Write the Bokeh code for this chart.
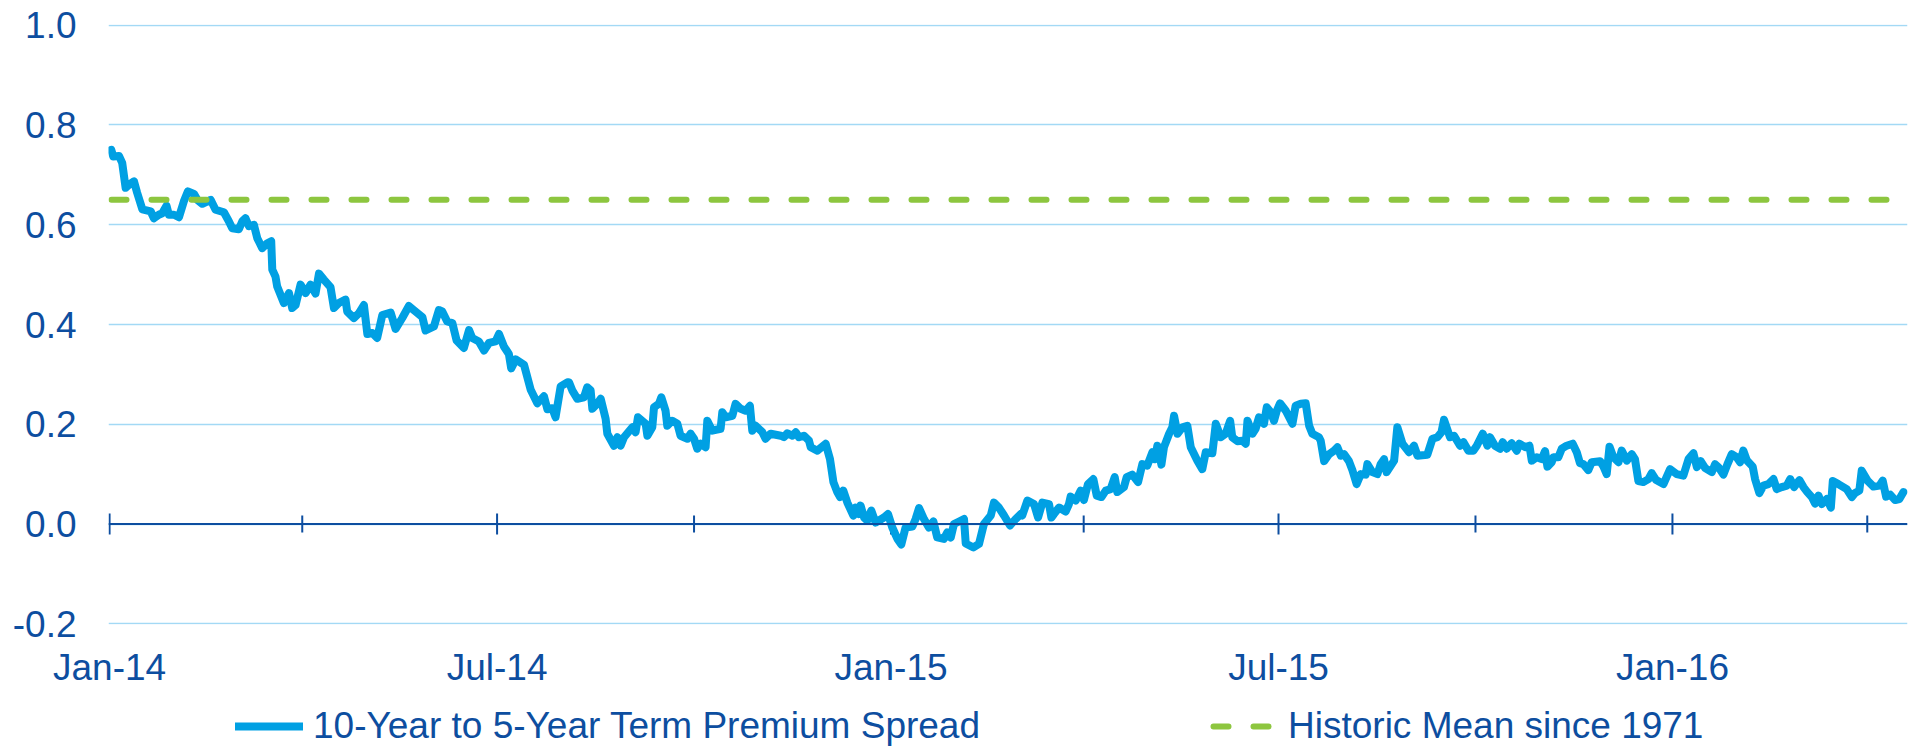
import numpy as np
import pandas as pd
from math import pi
from bokeh.plotting import figure
from bokeh.layouts import column
from bokeh.models import (Range1d, FixedTicker, MonthsTicker, DatetimeTickFormatter,
                          NumeralTickFormatter, Span, Legend, LegendItem)
from bokeh.embed import file_html
from bokeh.resources import INLINE

# ---------------- data ----------------
BASE_DATE = "2014-01-01"
# days since 2014-01-01
day_offset = [
    0.8, 1.7, 4.4, 5.9, 7.5, 9.0, 11.4, 12.9, 15.3, 19.2, 20.7, 23.0, 24.6, 26.6, 27.7, 30.1,
    32.4, 34.7, 36.6, 39.4, 41.0, 43.3, 47.2, 49.5, 53.4, 55.7, 57.3, 60.4, 62.0, 63.5, 65.1,
    67.4, 69.0, 71.3, 73.7, 75.5, 76.0, 77.5, 78.3, 81.4, 83.8, 85.3, 86.9, 89.2, 91.6, 93.9,
    96.2, 97.8, 100.1, 103.2, 104.8, 107.1, 110.2, 111.0, 114.1, 116.5, 118.8, 120.4, 122.7,
    125.0, 127.4, 131.3, 133.6, 136.7, 139.8, 142.9, 146.1, 147.6, 151.5, 153.8, 155.4, 157.7,
    160.1, 162.1, 165.5, 167.9, 169.4, 172.5, 174.9, 177.2, 180.3, 181.9, 184.2, 186.5, 187.6,
    189.7, 193.6, 196.7, 199.8, 202.9, 204.5, 206.8, 208.3, 210.7, 213.8,
    214.6, 216.1, 218.5, 221.6, 223.1, 224.7, 225.5, 227.8, 229.4, 231.7, 232.5, 235.6, 237.2,
    238.7, 240.3, 244.2, 245.7, 246.8, 250.4, 251.2, 253.5, 254.3, 256.6, 257.7, 259.7, 260.5,
    262.8, 265.2, 266.7, 269.9, 271.4, 273.0, 274.5, 276.1, 278.4, 279.2, 281.5, 285.4, 286.2,
    287.8, 290.9, 292.4, 294.8, 297.1, 299.1, 300.2, 301.8, 304.9, 306.4, 308.8, 313.5, 315.0,
    316.6, 318.9, 320.5, 322.0, 324.3, 326.7, 327.5, 330.6, 334.5, 336.5, 338.1, 339.9, 341.2,
    342.7, 344.6, 347.4, 348.5, 350.0, 350.8, 352.4, 353.9, 355.8, 357.8, 361.7, 363.6, 365.6,
    368.0, 369.8, 371.8, 375.0, 376.5, 378.1, 380.4, 382.7, 384.8, 386.6, 389.7, 391.3, 392.9,
    394.4, 396.8, 399.1, 399.9, 403.5, 406.1, 408.4, 411.6, 413.1, 415.4, 417.8, 420.6, 423.2,
    425.6,
    426.3, 428.7, 431.8, 433.7, 435.7, 438.8, 439.9, 441.1, 443.5, 446.6, 448.1, 448.9, 451.3,
    453.6, 455.1, 457.0, 459.5, 461.1, 463.3, 465.3, 467.6, 469.5, 470.7, 473.8, 475.1, 477.7,
    480.4, 482.4, 484.7, 487.1, 488.3, 489.4, 491.3, 492.5, 494.9, 496.4, 497.2, 498.8, 501.1,
    503.4, 505.0, 508.1, 510.4, 512.0, 515.1, 516.7, 519.0, 521.3, 523.4, 524.4, 526.8, 529.1,
    530.7, 531.5, 533.8, 535.3, 536.9, 539.2, 540.5, 542.4, 543.9, 545.2, 546.7, 549.4, 552.5,
    554.0, 556.4, 558.7, 560.3, 561.8, 564.9, 565.7, 567.3, 569.6, 571.9, 573.5, 575.1, 576.6,
    578.9, 580.5, 582.5, 584.4, 586.7, 587.5, 589.8, 592.2, 593.7, 595.3, 596.5, 600.0, 601.5,
    603.9, 607.0, 609.3, 610.9, 615.5, 617.9, 620.2, 622.1, 623.3,
    626.1, 628.0, 630.8, 632.4, 634.7, 637.0, 638.6, 641.4, 643.6, 644.8, 647.1, 649.5, 650.7,
    652.6, 654.9, 657.3, 658.5, 661.2, 663.2, 664.3, 666.6, 668.9, 670.5, 671.6, 673.6, 674.4,
    676.7, 678.3, 680.6, 683.4, 685.3, 686.8, 688.4, 690.7, 692.3, 696.2, 697.8, 699.3, 700.6,
    702.4, 704.8, 706.3, 708.7, 711.0, 712.5, 714.1, 716.4, 718.8, 720.3, 722.4, 725.8, 728.9,
    732.0, 735.1, 737.5, 739.8, 741.4, 743.2, 745.3, 748.4, 749.9, 751.5, 753.8, 755.7, 757.7,
    760.0, 761.6, 763.1, 764.7, 767.5, 768.6, 770.6, 772.5, 774.8, 777.2, 778.7, 781.1, 783.4,
    785.0, 786.8, 789.3, 791.2, 793.0, 795.1, 796.6, 798.2, 799.8, 802.1, 804.0, 804.9, 807.5,
    811.4, 813.8, 815.3, 817.3, 818.4, 821.1, 823.9, 826.7, 828.2, 829.8, 831.7, 834.0, 836.0,
    837.9,
]
spread = [
    0.750, 0.737, 0.738, 0.724, 0.674, 0.680, 0.687, 0.664, 0.631, 0.627, 0.613, 0.620, 0.623,
    0.638, 0.620, 0.620, 0.615, 0.647, 0.667, 0.662, 0.650, 0.642, 0.650, 0.630, 0.625, 0.607,
    0.593, 0.591, 0.607, 0.613, 0.597, 0.600, 0.573, 0.553, 0.563, 0.567, 0.510, 0.496, 0.476,
    0.443, 0.463, 0.433, 0.439, 0.480, 0.463, 0.480, 0.462, 0.502, 0.490, 0.475, 0.433, 0.443,
    0.450, 0.426, 0.413, 0.423, 0.439, 0.381, 0.383, 0.373, 0.419, 0.424, 0.391, 0.413, 0.437,
    0.426, 0.415, 0.388, 0.396, 0.429, 0.426, 0.406, 0.403, 0.368, 0.353, 0.389, 0.373, 0.366,
    0.348, 0.363, 0.366, 0.381, 0.356, 0.341, 0.312, 0.330, 0.319, 0.269, 0.242, 0.256, 0.230,
    0.232, 0.214, 0.276, 0.284,
    0.284, 0.268, 0.251, 0.254, 0.274, 0.268, 0.231, 0.241, 0.251, 0.211, 0.181, 0.157, 0.174,
    0.157, 0.174, 0.194, 0.184, 0.214, 0.201, 0.177, 0.194, 0.234, 0.241, 0.254, 0.227, 0.197,
    0.207, 0.201, 0.177, 0.171, 0.181, 0.171, 0.151, 0.161, 0.154, 0.207, 0.187, 0.191, 0.224,
    0.214, 0.217, 0.241, 0.231, 0.227, 0.237, 0.187, 0.197, 0.184, 0.171, 0.181, 0.177, 0.174,
    0.182, 0.177, 0.184, 0.174, 0.177, 0.167, 0.154, 0.147, 0.161, 0.130, 0.084, 0.064, 0.054,
    0.067, 0.043, 0.017, 0.033, 0.020, 0.037, 0.013, 0.007, 0.027, 0.003, 0.013, 0.020, -0.007,
    -0.030, -0.041, -0.007, -0.005, 0.010, 0.032, 0.010, -0.007, 0.005, -0.027, -0.030, -0.017,
    -0.027, 0.000, 0.005, 0.010, -0.039, -0.047, -0.040, 0.000, 0.017, 0.043, 0.033, 0.017,
    -0.003, 0.010, 0.020,
    0.017, 0.047, 0.040, 0.013, 0.043, 0.040, 0.013, 0.020, 0.033, 0.025, 0.040, 0.055, 0.047,
    0.067, 0.048, 0.080, 0.090, 0.057, 0.054, 0.067, 0.070, 0.094, 0.064, 0.074, 0.094, 0.099,
    0.084, 0.120, 0.117, 0.144, 0.130, 0.157, 0.119, 0.154, 0.181, 0.194, 0.217, 0.181, 0.194,
    0.197, 0.154, 0.127, 0.110, 0.144, 0.142, 0.201, 0.174, 0.181, 0.207, 0.174, 0.166, 0.167,
    0.161, 0.207, 0.181, 0.191, 0.214, 0.201, 0.234, 0.224, 0.207, 0.227, 0.242, 0.227, 0.201,
    0.237, 0.241, 0.242, 0.197, 0.181, 0.174, 0.167, 0.126, 0.140, 0.147, 0.154, 0.137, 0.140,
    0.126, 0.108, 0.080, 0.100, 0.099, 0.120, 0.104, 0.100, 0.120, 0.130, 0.104, 0.127, 0.194,
    0.161, 0.144, 0.157, 0.137, 0.139, 0.171, 0.174, 0.184, 0.209,
    0.174, 0.177, 0.157, 0.164, 0.147, 0.147, 0.157, 0.181, 0.157, 0.174, 0.157, 0.151, 0.164,
    0.151, 0.162, 0.147, 0.161, 0.154, 0.157, 0.127, 0.134, 0.130, 0.146, 0.115, 0.124, 0.134,
    0.134, 0.151, 0.157, 0.161, 0.144, 0.122, 0.120, 0.108, 0.124, 0.126, 0.115, 0.100, 0.155,
    0.134, 0.124, 0.147, 0.127, 0.140, 0.130, 0.086, 0.084, 0.090, 0.102, 0.088, 0.080, 0.110,
    0.100, 0.097, 0.130, 0.142, 0.114, 0.126, 0.112, 0.104, 0.120, 0.114, 0.099, 0.120, 0.140,
    0.134, 0.124, 0.147, 0.128, 0.115, 0.090, 0.062, 0.077, 0.080, 0.090, 0.070, 0.074, 0.077,
    0.090, 0.074, 0.088, 0.074, 0.064, 0.054, 0.041, 0.057, 0.040, 0.050, 0.033, 0.086, 0.080,
    0.070, 0.054, 0.062, 0.067, 0.107, 0.087, 0.075, 0.077, 0.087, 0.055, 0.059, 0.048, 0.050,
    0.064,
]
historic_mean = 0.65

x_start = "2013-12-31 12:00"
x_end = "2016-04-19 19:00"
y_min, y_max = -0.2015, 1.0015
y_ticks = [-0.2, 0.0, 0.2, 0.4, 0.6, 0.8, 1.0]
major_tick_dates = ["2014-01-01", "2014-07-01", "2015-01-01", "2015-07-01", "2016-01-01"]
minor_tick_dates = ["2014-04-01", "2014-10-01", "2015-04-01", "2015-10-01", "2016-04-01"]
series_label = "10-Year to 5-Year Term Premium Spread"
mean_label = "Historic Mean since 1971"

# ---------------- styles ----------------
BLUE = "#00A0E3"
GREEN = "#8DC63F"
TEXT = "#0D4EA0"
GRID = "#A3D9F5"
FONT = "Liberation Sans"
FSIZE = "37px"
W = 1908

dates = pd.Timestamp(BASE_DATE) + pd.to_timedelta(day_offset, unit="D")
xs = pd.Timestamp(x_start).to_pydatetime()
xe = pd.Timestamp(x_end).to_pydatetime()

p = figure(width=W, height=700, x_axis_type="datetime",
           output_backend="svg", toolbar_location=None,
           x_range=Range1d(xs, xe), y_range=Range1d(y_min, y_max),
           min_border_left=108, min_border_right=1, min_border_top=24,
           min_border_bottom=76)
p.outline_line_color = None
p.background_fill_color = "white"
p.border_fill_color = "white"

# y axis
p.yaxis.ticker = FixedTicker(ticks=y_ticks)
p.yaxis.formatter = NumeralTickFormatter(format="0.0")
p.yaxis.axis_line_color = None
p.yaxis.major_tick_line_color = None
p.yaxis.minor_tick_line_color = None
p.yaxis.major_tick_out = 0
p.yaxis.major_tick_in = 0
p.yaxis.major_label_standoff = 32
p.yaxis.major_label_text_font = FONT
p.yaxis.major_label_text_font_size = FSIZE
p.yaxis.major_label_text_color = TEXT

p.ygrid.ticker = FixedTicker(ticks=y_ticks)
p.ygrid.grid_line_color = GRID
p.ygrid.grid_line_width = 1.5
p.xgrid.grid_line_color = None

# x axis (labels only, at the bottom)
p.xaxis.ticker = MonthsTicker(months=[0, 6])
p.xaxis.formatter = DatetimeTickFormatter(months="%b-%y", years="%b-%y", days="%b-%y")
p.xaxis.axis_line_color = None
p.xaxis.major_tick_line_color = None
p.xaxis.minor_tick_line_color = None
p.xaxis.major_tick_out = 0
p.xaxis.major_tick_in = 0
p.xaxis.major_label_standoff = 22
p.xaxis.major_label_text_font = FONT
p.xaxis.major_label_text_font_size = FSIZE
p.xaxis.major_label_text_color = TEXT

# zero line with crossing tick marks
p.add_layout(Span(location=0, dimension="width", line_color=TEXT, line_width=2))
p.scatter(x=pd.to_datetime(major_tick_dates), y=np.zeros(len(major_tick_dates)),
          marker="dash", angle=pi / 2, size=21, line_color=TEXT, line_width=2)
p.scatter(x=pd.to_datetime(minor_tick_dates), y=np.zeros(len(minor_tick_dates)),
          marker="dash", angle=pi / 2, size=17, line_color=TEXT, line_width=2)

# series
series_style = dict(line_color=BLUE, line_width=8, line_join="round", line_cap="round")
mean_style = dict(line_color=GREEN, line_width=6, line_dash="15 25",
                  line_dash_offset=-3, line_cap="round")
p.line(dates, spread, **series_style)
p.line([xs, xe], [historic_mean, historic_mean], **mean_style)

# ---------------- legend strip under the chart ----------------
# (its frame lines up with the main frame; the ranges are set so that the
#  copies of the series used for the legend swatches fall outside the view)
pl = figure(width=W, height=47, output_backend="svg", toolbar_location=None,
            x_range=Range1d(-20, -10), y_range=Range1d(-20, -10),
            x_axis_location=None, y_axis_location=None,
            min_border_left=0, min_border_right=0, min_border_top=0, min_border_bottom=0)
pl.outline_line_color = None
pl.grid.grid_line_color = None
pl.background_fill_color = "white"
pl.border_fill_color = "white"
leg_series = pl.line(day_offset, spread, **series_style)
leg_mean = pl.line([day_offset[0], day_offset[-1]], [historic_mean, historic_mean], **mean_style)

legend = Legend(items=[LegendItem(label=series_label, renderers=[leg_series]),
                       LegendItem(label=mean_label, renderers=[leg_mean])],
                orientation="horizontal", location=(127, 0),
                glyph_width=68, glyph_height=20, label_standoff=10, spacing=230,
                padding=0, margin=0, border_line_color=None, background_fill_alpha=0,
                label_text_font=FONT, label_text_font_size=FSIZE,
                label_text_color=TEXT)
pl.add_layout(legend)

layout = column(p, pl, spacing=0)
open("out.html", "w").write(file_html(layout, INLINE))
